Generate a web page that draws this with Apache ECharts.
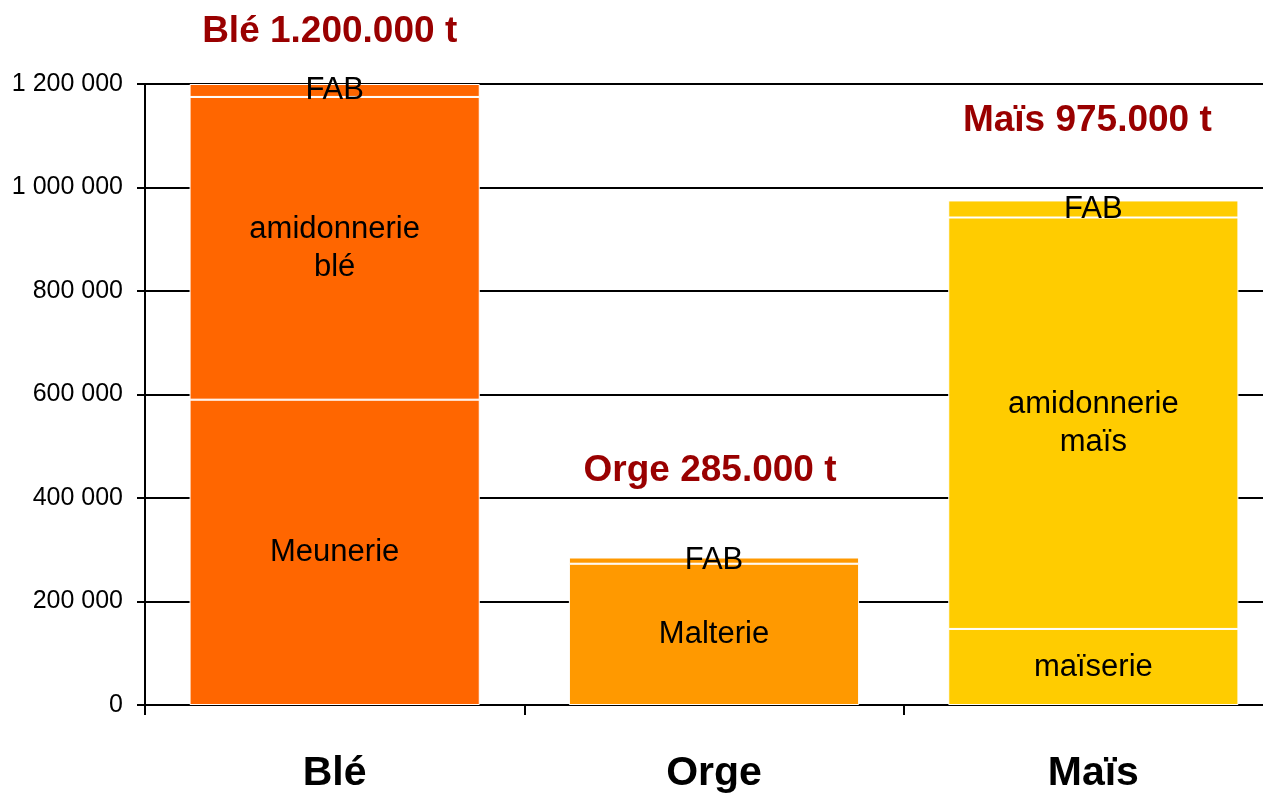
<!DOCTYPE html>
<html>
<head>
<meta charset="utf-8">
<script src="https://cdn.jsdelivr.net/npm/echarts@6/dist/echarts.min.js"></script>
<style>
html, body { margin: 0; padding: 0; background: #fff; overflow: hidden; width: 1263px; height: 794px; }
#chart { width: 1283px; height: 794px; }
</style>
</head>
<body>
<div id="chart"></div>
<script>
const categories = ['Blé', 'Orge', 'Maïs'];
const baseValues = [590000, 273000, 147000];
const baseLabels = ['Meunerie', 'Malterie', 'maïserie'];
const middleValues = [585000, null, 795000];
const middleLabels = ['amidonnerie\nblé', '', 'amidonnerie\nmaïs'];
const fabValues = [25000, 12000, 33000];
const fabLabels = ['FAB', 'FAB', 'FAB'];
const totals = [1200000, 285000, 975000];
const totalLabels = ['Blé 1.200.000 t', 'Orge 285.000 t', 'Maïs 975.000 t'];
const yTicks = [0, 200000, 400000, 600000, 800000, 1000000, 1200000];

const barColors = ['#FF6600', '#FF9900', '#FFCC00'];
const titleOffsets = [[-5, -52], [-4, -87], [-6, -80]];
const FONT = '"Liberation Sans", Arial, sans-serif';

const chart = echarts.init(document.getElementById('chart'), null, { renderer: 'canvas' });

function segSeries(name, values, labels) {
  return {
    name: name,
    type: 'bar',
    stack: 'total',
    barWidth: '76.5%',
    animation: false,
    data: values.map((v, i) => ({
      value: v,
      itemStyle: { color: barColors[i] },
      label: { formatter: labels[i] }
    })),
    itemStyle: { borderColor: '#ffffff', borderWidth: 1 },
    label: {
      show: true,
      position: 'inside',
      color: '#000',
      fontFamily: FONT,
      fontSize: 31,
      lineHeight: 38
    }
  };
}

const option = {
  backgroundColor: '#ffffff',
  animation: false,
  grid: { left: 145, right: 0, top: 84, bottom: 88, containLabel: false },
  xAxis: {
    type: 'category',
    data: categories,
    axisLine: { lineStyle: { color: '#000', width: 2 } },
    axisTick: { show: true, length: 10, lineStyle: { color: '#000', width: 2 }, alignWithLabel: false },
    axisLabel: { color: '#000', fontFamily: FONT, fontWeight: 'bold', fontSize: 41, margin: 48 }
  },
  yAxis: {
    type: 'value',
    min: yTicks[0],
    max: yTicks[yTicks.length - 1],
    interval: yTicks[1] - yTicks[0],
    axisLine: { show: true, lineStyle: { color: '#000', width: 2 } },
    axisTick: { show: true, length: 8, lineStyle: { color: '#000', width: 2 } },
    splitLine: { show: true, lineStyle: { color: '#000', width: 2 } },
    axisLabel: {
      color: '#000',
      fontFamily: FONT,
      fontSize: 25,
      margin: 22,
      formatter: v => String(v).replace(/\B(?=(\d{3})+(?!\d))/g, ' ')
    }
  },
  series: [
    segSeries('base', baseValues, baseLabels),
    segSeries('middle', middleValues, middleLabels),
    segSeries('fab', fabValues, fabLabels),
    {
      name: 'totals',
      type: 'scatter',
      symbolSize: 0,
      animation: false,
      silent: true,
      z: 10,
      itemStyle: { opacity: 1 },
      data: totals.map((v, i) => ({
        value: v,
        label: { formatter: totalLabels[i], offset: titleOffsets[i] }
      })),
      label: {
        show: true,
        position: 'inside',
        color: '#990000',
        fontFamily: FONT,
        fontWeight: 'bold',
        fontSize: 37
      }
    }
  ]
};
chart.setOption(option);
</script>
</body>
</html>
